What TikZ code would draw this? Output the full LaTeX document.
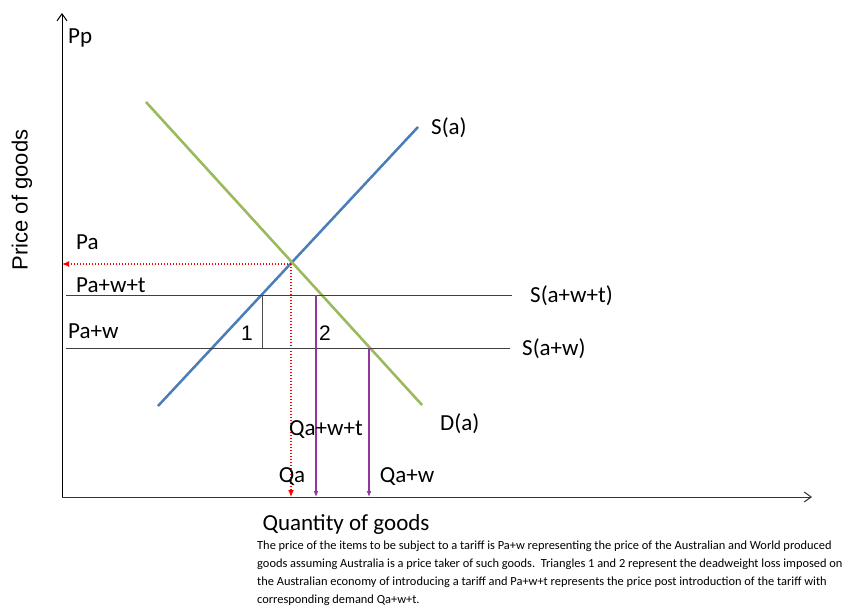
\documentclass[tikz,border=0pt]{standalone}
\usepackage{fontspec}
\setmainfont{Carlito}
\setsansfont{Liberation Sans}
\usetikzlibrary{arrows.meta}
\definecolor{supplyblue}{RGB}{74,126,187}
\definecolor{demandgreen}{RGB}{155,187,89}
\definecolor{droppurple}{RGB}{146,56,156}

\begin{document}
\begin{tikzpicture}[x=1pt, y=-1pt,
    lbl/.style={font=\fontsize{23}{26}\selectfont, inner sep=0pt},
    curve/.style={line width=2.4pt},
    shadowline/.style={line width=2.4pt, gray!45, shift={(1.3,1.3)}},
    pricelevel/.style={line width=1pt, black!75},
    axisarrow/.style={line width=1pt, -{Straight Barb[length=7pt,width=10pt]}},
    dropline/.style={line width=1.3pt, droppurple, -{Latex[length=6pt,width=5pt]}},
    dotline/.style={red, dash pattern=on 1.3pt off 1.7pt, line width=1.2pt, -{Latex[length=7pt,width=6pt]}}]
  \useasboundingbox (0,0) rectangle (849,615);
  % axes
  \coordinate (O) at (62,497);
  \coordinate (ytop) at (62,13);
  \coordinate (xend) at (812,497);
  \draw[axisarrow] (O) -- (ytop);
  \draw[axisarrow, black!80] (O) -- (xend);
  \node[lbl, anchor=base west] (pp) at (68,44) {Pp};
  \node[lbl, rotate=90, font=\fontsize{22}{24}\selectfont\sffamily] (ylab) at (22,200) {Price of goods};
  \node[lbl, anchor=base] (xlab) at (346,530) {Quantity of goods};
  % supply and demand curves
  \coordinate (sa) at (158,406);
  \coordinate (sb) at (418,127);
  \coordinate (da) at (146,102);
  \coordinate (db) at (422,405);
  \draw[shadowline] (sa) -- (sb);
  \draw[shadowline] (da) -- (db);
  \draw[curve, supplyblue] (sa) -- (sb);
  \draw[curve, demandgreen] (da) -- (db);
  \node[lbl, anchor=base west] (slab) at (431,135) {S(a)};
  \node[lbl, anchor=base west] (dlab) at (440,430) {D(a)};
  % equilibrium price Pa
  \coordinate (E) at (291,264);
  \coordinate (paax) at (62,264);
  \coordinate (qaax) at (291,497);
  \draw[dotline] (E) -- (paax);
  \draw[dotline] (E) -- (qaax);
  \node[lbl, anchor=base west] (pa) at (76,249) {Pa};
  \node[lbl, anchor=base] (qa) at (292,482) {Qa};
  % world price with tariff
  \coordinate (wt0) at (66,295);
  \coordinate (wt1) at (512,295);
  \draw[pricelevel] (wt0) -- (wt1);
  \node[lbl, anchor=base west] (pwt) at (76,292) {Pa+w+t};
  \node[lbl, anchor=base west] (swt) at (530,302) {S(a+w+t)};
  % world price
  \coordinate (w0) at (66,348);
  \coordinate (w1) at (510,348);
  \draw[pricelevel] (w0) -- (w1);
  \node[lbl, anchor=base west] (pw) at (68,338) {Pa+w};
  \node[lbl, anchor=base west] (sw) at (522,355) {S(a+w)};
  % deadweight loss triangles
  \coordinate (t1top) at (262,295);
  \coordinate (t1bot) at (262,348);
  \draw[line width=0.7pt, black!70] (t1top) -- (t1bot);
  \node[lbl, anchor=base, font=\fontsize{21}{24}\selectfont\sffamily] (tri1) at (247,340) {1};
  \node[lbl, anchor=base, font=\fontsize{21}{24}\selectfont\sffamily] (tri2) at (325,340) {2};
  % quantities demanded
  \coordinate (qwt) at (316,295);
  \coordinate (qwtax) at (316,497);
  \coordinate (qw) at (369,348);
  \coordinate (qwax) at (369,497);
  \draw[dropline] (qwt) -- (qwtax);
  \draw[dropline] (qw) -- (qwax);
  \node[lbl, anchor=base] (qwtlab) at (326,435) {Qa+w+t};
  \node[lbl, anchor=base] (qwlab) at (407,482) {Qa+w};
  % caption
  \node[anchor=base west, align=left, inner sep=0pt,
    font=\fontsize{12.4}{18}\selectfont] (caption) at (257,603)
    {The price of the items to be subject to a tariff is Pa+w representing the price of the Australian and World produced\\
     goods assuming Australia is a price taker of such goods.\ \ Triangles 1 and 2 represent the deadweight loss imposed on\\
     the Australian economy of introducing a tariff and Pa+w+t represents the price post introduction of the tariff with\\
     corresponding demand Qa+w+t.};
\end{tikzpicture}
\end{document}
